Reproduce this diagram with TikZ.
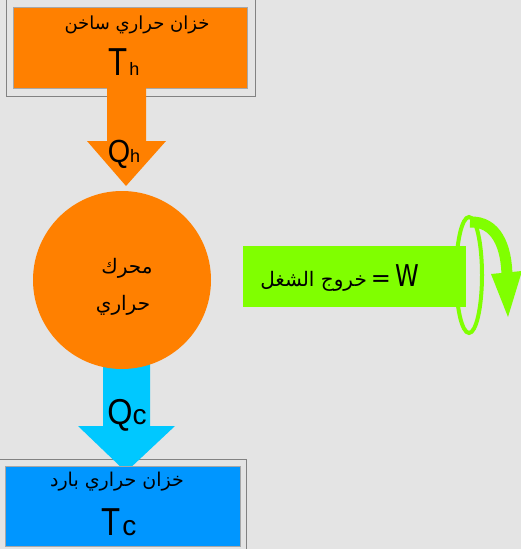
\documentclass[tikz,border=0pt]{standalone}
\usepackage{fontspec}
\usepackage{graphicx}
\setmainfont{Liberation Sans}
\newfontfamily\arabicfont[Script=Arabic]{DejaVu Sans}
\TeXXeTstate=1
\definecolor{bgc}{RGB}{228,228,228}
\definecolor{hotc}{RGB}{255,128,0}
\definecolor{coldc}{RGB}{0,150,255}
\definecolor{qcc}{RGB}{0,200,255}
\definecolor{workc}{RGB}{128,255,0}
\definecolor{framec}{RGB}{130,130,130}
\tikzset{
  frame/.style={draw=framec, line width=0.8pt},
  boxstyle/.style={rectangle, draw=framec!70, line width=0.8pt, inner sep=0pt, anchor=north west},
  ar/.style={inner sep=0pt},
  sym/.style={anchor=base, inner sep=0pt},
}
\newcommand{\arfs}[1]{\arabicfont\fontsize{#1}{#1}\selectfont}
\newcommand{\lfs}[1]{\fontsize{#1}{#1}\selectfont}
\begin{document}
\begin{tikzpicture}[x=1pt,y=-1pt]
\useasboundingbox (0,0) rectangle (521,549);
\fill[bgc] (0,0) rectangle (521,549);
% frames
\draw[frame] (6,-1) -- (6,96) -- (255,96) -- (255,-1);
\draw[frame] (-1,459) -- (246,459) -- (246,550);
% hot reservoir
\node[boxstyle, fill=hotc, minimum width=234pt, minimum height=81pt] (hot) at (13,7) {};
\node[ar] (hotlbl) at (137,25) {\arfs{18}\beginR خزان حراري ساخن\endR};
\node[sym] (Th) at (124,75) {\scalebox{0.8}[1]{\lfs{39}T}\,\lfs{18}h};
% Qh arrow
\fill[hotc] (107,88) -- (146,88) -- (146,141) -- (166,141) -- (126,186) -- (87,141) -- (107,141) -- cycle;
% Qc arrow
\fill[qcc] (103,360) -- (150,360) -- (150,426) -- (175,426) -- (126,472) -- (78,426) -- (103,426) -- cycle;
% engine
\node[circle, fill=hotc, minimum size=178pt, inner sep=0pt] (engine) at (122,280) {};
\node[ar] (eng1) at (127,268) {\arfs{20}\beginR محرك\endR};
\node[ar] (eng2) at (123,305) {\arfs{20}\beginR حراري\endR};
\node[sym] (Qh) at (124,162) {\scalebox{0.9}[1]{\lfs{32}Q}\lfs{18}h};
\node[sym] (Qc) at (127,424) {\scalebox{0.9}[1]{\lfs{36}Q}\lfs{28}c};
% cold reservoir
\node[boxstyle, fill=coldc, minimum width=235pt, minimum height=80pt] (cold) at (5,466) {};
\node[ar] (coldlbl) at (117,482) {\arfs{19}\beginR خزان حراري بارد\endR};
\node[sym] (Tc) at (119,535) {\scalebox{0.8}[1]{\lfs{39}T}\,\lfs{28}c};
% work
\node[rectangle, fill=workc, minimum width=223pt, minimum height=61pt, anchor=north west, inner sep=0pt] (work) at (243,246) {};
\node[inner sep=0pt] (worklbl) at (340,278) {\arfs{20}\beginR\beginL\lfs{30}\scalebox{0.8}[1]{W}\endL\hspace{5pt}\lfs{24}=\hspace{4pt}\arfs{20}خروج الشغل\endR};
% rotation symbol
\draw[workc, line width=4pt] (469,275) ellipse (13pt and 58pt);
\coordinate (rotA) at (470,222);
\coordinate (rotB) at (507,278);
\draw[workc, line width=11pt] (rotA) .. controls (496,221) and (507,246) .. (rotB);
\fill[workc] (491,274) -- (522,271) -- (508,317) -- cycle;
\end{tikzpicture}
\end{document}
